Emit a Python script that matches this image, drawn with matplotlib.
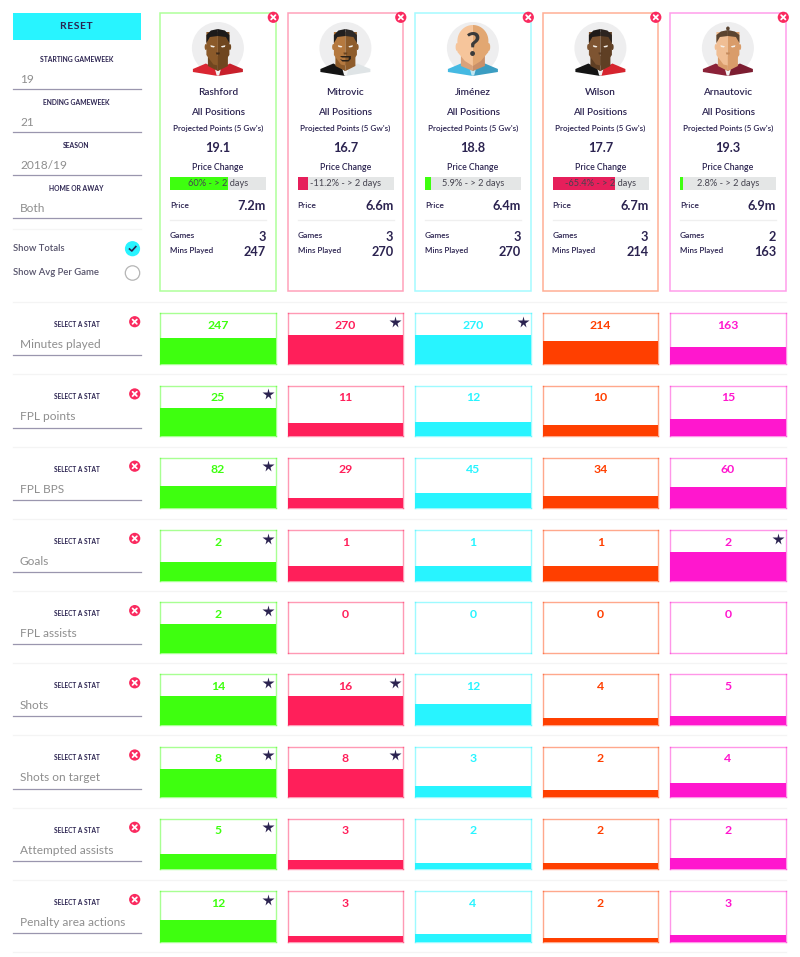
import matplotlib
matplotlib.use("Agg")
import matplotlib.pyplot as plt
import numpy as np
from matplotlib.patches import Circle, Polygon, Rectangle, Ellipse

plt.rcParams['font.family'] = ['Lato', 'DejaVu Sans']

# ---------- data ----------
players = ["Rashford", "Mitrovic", "Jiménez", "Wilson", "Arnautovic"]
projected = ["19.1", "16.7", "18.8", "17.7", "19.3"]
price_change = [60, -11.2, 5.9, -65.4, 2.8]
price_text = ["60% - > 2 days", "-11.2% - > 2 days", "5.9% - > 2 days", "-65.4% - > 2 days", "2.8% - > 2 days"]
prices = ["7.2m", "6.6m", "6.4m", "6.7m", "6.9m"]
games = [3, 3, 3, 3, 2]
mins_played = [247, 270, 270, 214, 163]

stat_names = ["Minutes played", "FPL points", "FPL BPS", "Goals", "FPL assists",
              "Shots", "Shots on target", "Attempted assists", "Penalty area actions"]
# numbers printed in each panel
stat_labels = [
    [247, 270, 270, 214, 163],
    [25, 11, 12, 10, 15],
    [82, 29, 45, 34, 60],
    [2, 1, 1, 1, 2],
    [2, 0, 0, 0, 0],
    [14, 16, 12, 4, 5],
    [8, 8, 3, 2, 4],
    [5, 3, 2, 2, 2],
    [12, 3, 4, 2, 3],
]
# level each bar reaches (a few differ from the printed number)
bar_levels = [
    [247, 270, 270, 214, 163],
    [25, 11, 12, 10, 15],
    [63, 29, 45, 34, 60],
    [1.33, 1, 1, 1, 2],
    [2, 0, 0, 0, 0],
    [16, 16, 12, 4, 5],
    [8, 8, 3, 2, 4],
    [5, 3, 2, 2, 3.9],
    [12, 3, 4, 2, 3.8],
]
row_scale = [270, 25, 82, 2, 2, 16, 8, 9.5, 16]
star_flags = [
    [0, 1, 1, 0, 0],
    [1, 0, 0, 0, 0],
    [1, 0, 0, 0, 0],
    [1, 0, 0, 0, 1],
    [1, 0, 0, 0, 0],
    [1, 1, 0, 0, 0],
    [1, 1, 0, 0, 0],
    [1, 0, 0, 0, 0],
    [1, 0, 0, 0, 0],
]
filters = [("STARTING GAMEWEEK", "19"), ("ENDING GAMEWEEK", "21"), ("SEASON", "2018/19"), ("HOME OR AWAY", "Both")]

# ---------- style ----------
colors = ["#3EFF0F", "#FF1F5A", "#28F4FF", "#FF3F00", "#FF17CE"]
DARK = "#2B2350"
GREY = "#8E8E8E"
LINE = "#9A96AE"
NEG = "#E61F5B"
card_x = [160, 287.5, 415, 542.5, 670]
CARD_W = 115.8
FILL_PX = 28.5
PANEL_H = 50.5
row_top = [313.3, 385.5, 457.8, 530, 602.2, 674.4, 746.6, 818.9, 891.1]

W, H = 800, 957
fig = plt.figure(figsize=(8, 9.57), dpi=100, facecolor="white")
bg = fig.add_axes([0, 0, 1, 1])
bg.set_xlim(0, W)
bg.set_ylim(H, 0)
bg.axis("off")


def T(x, y, s, size=7, color=DARK, ha="center", weight=600, **kw):
    dy = 0.8 if size >= 6 else 0.2
    return bg.text(x, y + dy, s, fontsize=size, color=color, ha=ha, va="center", weight=weight, **kw)


def close_btn(x, y, r=5.6):
    bg.add_patch(Circle((x, y), r, fc="#FA2A5F", ec="none", zorder=6))
    d = r * 0.38
    bg.plot([x - d, x + d], [y - d, y + d], color="white", lw=1.3, zorder=7, solid_capstyle="round")
    bg.plot([x - d, x + d], [y + d, y - d], color="white", lw=1.3, zorder=7, solid_capstyle="round")


def avatar(cx, kind):
    cy = 48
    bg.add_patch(Circle((cx, cy), 26, fc="#EEEEEF", ec="none", zorder=1))
    L, R, hair, sh_l, sh_r = kind["skin_l"], kind["skin_r"], kind["hair"], kind["sh_l"], kind["sh_r"]
    P = lambda pts, c, z=2: bg.add_patch(Polygon([(cx + a, cy + b) for a, b in pts], closed=True, fc=c, ec="none", zorder=z))
    # shirt
    P([(-25, 21), (-12, 15.5), (0, 22), (0, 28), (-25, 24)], sh_l)
    P([(25, 21), (12, 15.5), (0, 22), (0, 28), (25, 24)], sh_r)
    P([(-3, 21), (0, 23), (3, 21), (1.2, 27.6), (-1.2, 27.6)], kind.get("collar", "#F2F2F2"), 2.2)
    # neck
    nw = kind.get("neck", 10)
    P([(-nw, 8), (0, 8), (0, 23), (-nw, 18)], kind.get("neck_l", R), 2.5)
    P([(nw, 8), (0, 8), (0, 23), (nw, 18)], kind.get("neck_r", R), 2.5)
    w = kind.get("w", 11.5)
    if kind.get("unknown"):
        th = np.linspace(0, np.pi / 2, 30)
        dome = [(15.5 * np.sin(t), -7 - 16 * np.cos(t)) for t in th]
        P([(0, -23)] + dome[1:] + [(15.5, 4), (8, 13), (0, 18)], R, 3)
        P([(-a, b) for a, b in dome] + [(-15.5, 4), (-8, 13), (0, 18)], L, 3)
        bg.add_patch(Ellipse((cx - 15.8, cy - 1), 3, 8, fc=L, ec="none", zorder=2.8))
        bg.add_patch(Ellipse((cx + 15.8, cy - 1), 3, 8, fc=R, ec="none", zorder=2.8))
        bg.text(cx, cy - 2, "?", fontsize=23, weight="bold", color="#3A3A3A", ha="center", va="center", zorder=5)
        return
    # ears
    bg.add_patch(Ellipse((cx - w - 0.5, cy - 1), 2.5, 6, fc=L, ec="none", zorder=2.8))
    bg.add_patch(Ellipse((cx + w + 0.5, cy - 1), 2.5, 6, fc=R, ec="none", zorder=2.8))
    # head
    P([(-w, -16), (0, -16), (0, 17.5), (-4.5, 16.5), (-w, 7)], L, 3)
    P([(w, -16), (0, -16), (0, 17.5), (4.5, 16.5), (w, 7)], R, 3)
    # hair
    hh = kind.get("hair_top", -19)
    P([(-w, -5), (-w, -13), (-7, hh + 1.5), (0, hh), (0, -12), (-8, -11)], hair, 3.5)
    P([(w, -5), (w, -13), (7, hh + 1.5), (0, hh), (0, -12), (8, -11)], kind.get("hair_r", hair), 3.5)
    if kind.get("bun"):
        bg.add_patch(Ellipse((cx, cy - 19.5), 3.6, 4, fc=hair, ec="none", zorder=3.4))
    # eyes, nose, mouth
    for s in (-1, 1):
        P([(s * 7.5, -2.8), (s * 3, -1.8), (s * 4, -0.5), (s * 7, -1)], "#F5F0EA", 4)
    nose = kind.get("nose", "#3E2A1A")
    P([(-2, 4.5), (2, 4.5), (1.5, 6.5), (-1.5, 6.5)], nose, 4)
    if kind.get("beard"):
        b = kind["beard"]
        P([(-5.5, 8), (5.5, 8), (5.5, 11), (3, 13.5), (-3, 13.5), (-5.5, 11), (-3, 12), (3, 12), (3.5, 9.5), (-3.5, 9.5)], b, 4)
    else:
        P([(-2.5, 10.5), (2.5, 10.5), (2.5, 11.2), (-2.5, 11.2)], nose, 4)


avatars = [
    dict(skin_l="#8B5A2A", skin_r="#6F461F", hair="#1C1A1A", sh_l="#DA2632", sh_r="#C8202C"),
    dict(skin_l="#B5793F", skin_r="#8E5C2B", hair="#211F1F", hair_r="#2E2A28", sh_l="#141414", sh_r="#DFE4E6",
         beard="#2B2118", nose="#6B4420"),
    dict(skin_l="#F6C59B", skin_r="#E2A772", hair="#000000", sh_l="#45B9E2", sh_r="#3B9DC2",
         collar="#BFE6F2", unknown=True, neck=12, neck_l="#D9A27A", neck_r="#C98F68"),
    dict(skin_l="#7E5431", skin_r="#5F3F24", hair="#1E1A18", hair_r="#2C2420", sh_l="#141414", sh_r="#D6242E",
         nose="#5A3B22"),
    dict(skin_l="#F0BE94", skin_r="#D99C6A", hair="#5B4430", sh_l="#8B2238", sh_r="#7C1D31", bun=True,
         nose="#C48A5C", hair_top=-18),
]

# ---------- left filter column ----------
bg.add_patch(Rectangle((13, 13), 127.5, 26.5, fc="#28F4FF", ec="none"))
T(76.5, 25.8, "R\u200aE\u200aS\u200aE\u200aT", size=7.4, weight="bold")
f_y = [59, 102, 145, 188]
for (lab, val), y in zip(filters, f_y):
    T(76.5, y, lab, size=4.9, weight="bold")
    T(20, y + 19.5, val, size=8.6, color=GREY, ha="left", weight="normal")
    bg.plot([13, 140.5], [y + 30.3, y + 30.3], color=LINE, lw=0.9)
bg.plot([13, 140.5], [229.3, 229.3], color="#F5F5F5", lw=0.9)
T(13, 248, "Show Totals", size=6.8, color="#55526A", ha="left")
T(13, 272, "Show Avg Per Game", size=6.8, color="#55526A", ha="left")
bg.add_patch(Circle((132.5, 248.7), 7.6, fc="#28F4FF", ec="none"))
bg.plot([129.5, 131.8, 135.8], [249, 251, 246.6], color=DARK, lw=1.2)
bg.add_patch(Circle((132.5, 273), 7.2, fc="white", ec="#B5B5B5", lw=0.9))

# ---------- player cards ----------
for i, x in enumerate(card_x):
    cx = x + CARD_W / 2
    bg.add_patch(Rectangle((x, 13.2), CARD_W, 278, fc="white", ec=colors[i], alpha=0.42, lw=1.1))
    close_btn(x + 113.3, 17.3)
    avatar(cx, avatars[i])
    T(cx, 91.7, players[i], size=7.2)
    T(cx, 111.7, "All Positions", size=7.1)
    T(cx, 128.5, "Projected Points (5 Gw's)", size=5.9)
    T(cx, 147.5, projected[i], size=9.2, weight="bold")
    T(cx, 166.7, "Price Change", size=6.3)
    px = x + 10
    ax = fig.add_axes([px / W, 1 - 189.7 / H, 96 / W, 13 / H])
    ax.barh([0], [abs(price_change[i])], height=1, color=colors[0] if price_change[i] > 0 else NEG)
    ax.set_xlim(0, 100)
    ax.set_ylim(-0.5, 0.5)
    ax.set_facecolor("#E4E6E6")
    ax.set_xticks([])
    ax.set_yticks([])
    for s in ax.spines.values():
        s.set_visible(False)
    ax.text(0.5, 0.47, price_text[i], transform=ax.transAxes, ha="center", va="center", fontsize=6.7, color="#45434F")
    T(px, 204.5, "Price", size=6.0, ha="left")
    T(px + 96, 205.5, prices[i], size=9.2, ha="right", weight="bold")
    bg.plot([px, px + 96], [219.5, 219.5], color="#EFEFEF", lw=0.9)
    T(px, 235, "Games", size=6.0, ha="left")
    T(px + 96, 235.8, str(games[i]), size=9.2, ha="right", weight="bold")
    T(px, 250.5, "Mins Played", size=5.8, ha="left")
    T(px + 96, 251.3, str(mins_played[i]), size=9.2, ha="right", weight="bold")

# ---------- stat rows ----------
bg.plot([13, 786], [302.3, 302.3], color="#F4F4F4", lw=0.9)
for r, top in enumerate(row_top):
    bg.plot([13, 786], [top + 61, top + 61], color="#F4F4F4", lw=0.9)
    T(76.5, top + 11, "SELECT A STAT", size=4.7, weight="bold")
    T(20, top + 30.5, stat_names[r], size=8.6, color=GREY, ha="left", weight="normal")
    bg.plot([13, 140.5], [top + 42, top + 42], color=LINE, lw=0.9)
    close_btn(134.7, top + 8.4)
    for c, x in enumerate(card_x):
        ax = fig.add_axes([x / W, 1 - (top + PANEL_H) / H, CARD_W / W, PANEL_H / H])
        ax.bar([0], [bar_levels[r][c]], width=1, color=colors[c])
        ax.set_xlim(-0.5, 0.5)
        ax.set_ylim(0, row_scale[r] * PANEL_H / FILL_PX)
        ax.set_xticks([])
        ax.set_yticks([])
        for s in ax.spines.values():
            s.set_color(colors[c])
            s.set_alpha(0.45)
            s.set_linewidth(1.0)
        ax.text(0.5, 1 - 12 / PANEL_H, str(stat_labels[r][c]), transform=ax.transAxes,
                ha="center", va="center", fontsize=8.8, color=colors[c], weight="bold")
        if star_flags[r][c]:
            ax.plot([1 - 8.3 / CARD_W], [1 - 8.5 / PANEL_H], marker="*", ms=8.5, color=DARK,
                    mec="none", transform=ax.transAxes, clip_on=False)

fig.savefig("out.png", dpi=100, facecolor="white")
